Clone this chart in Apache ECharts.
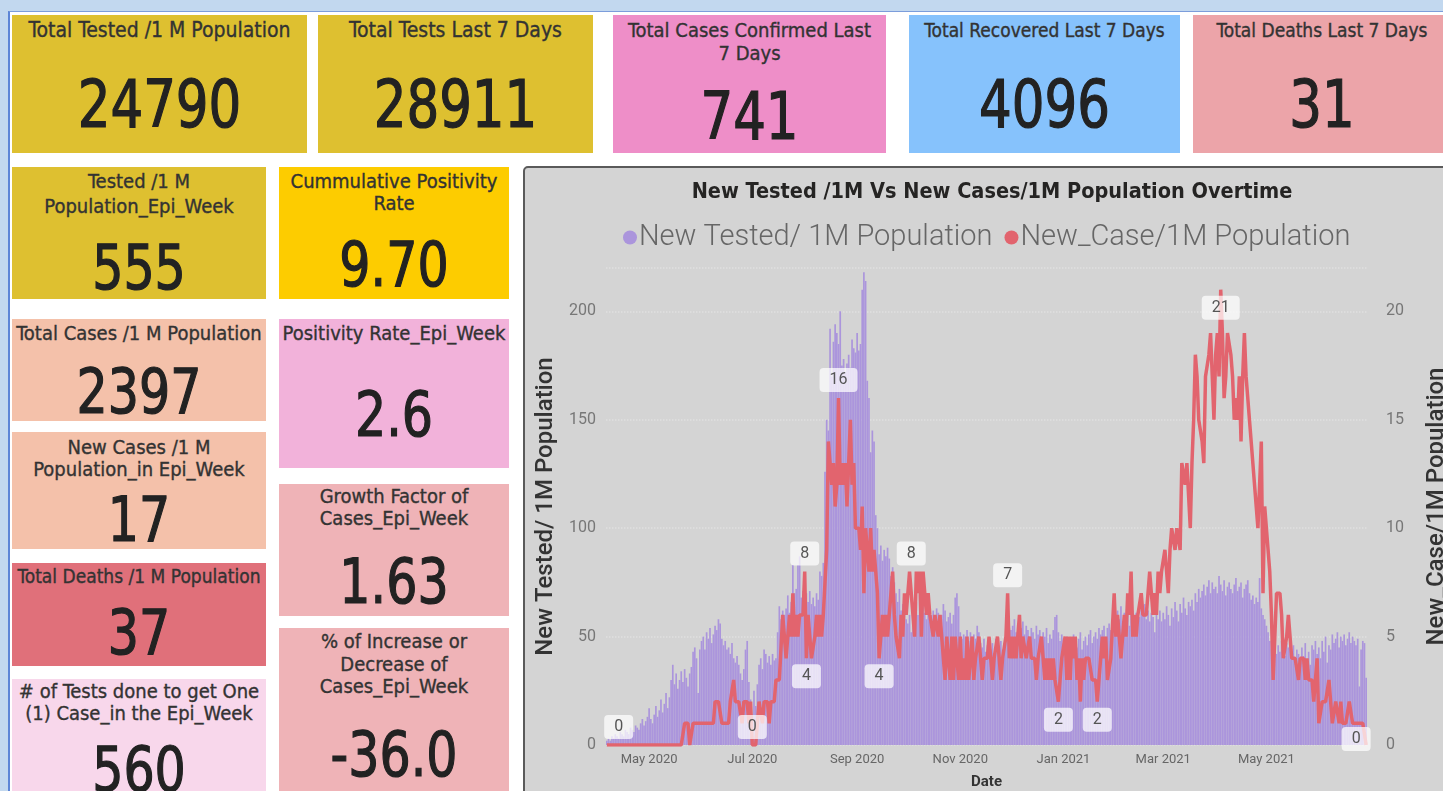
<!DOCTYPE html>
<html>
<head>
<meta charset="utf-8">
<script src="https://cdn.jsdelivr.net/npm/echarts@6/dist/echarts.min.js"></script>
<style>
  html, body { margin: 0; padding: 0; width: 1443px; height: 791px; overflow: hidden; background: #c2d8ef; }
  .frame { position: absolute; left: 8px; top: 11px; right: 0; bottom: 0; background: #fff;
           border-left: 2px solid #5d85d6; border-top: 1px solid #7c9ddb; }
  .card { position: absolute; overflow: hidden; }
  .t { position: absolute; left: 0; right: 0; text-align: center; color: #333; white-space: nowrap;
       font: 20px/23px "DejaVu Sans Condensed", Roboto, sans-serif; -webkit-text-stroke: 0.35px #333; }
  .v { position: absolute; left: 0; right: 0; text-align: center; color: #222; white-space: nowrap;
       font: 62px/70px "DejaVu Sans Condensed", Roboto, sans-serif; -webkit-text-stroke: 1.2px #222;
       transform: scaleX(0.88); }
  .big { font-size: 65px; }
  #panel { position: absolute; left: 523px; top: 166px; width: 940px; height: 660px; background: #d4d4d4;
           border: 2px solid #5a5a5a; border-radius: 5px; }
  #main { position: absolute; left: 0; top: 0; width: 1443px; height: 791px; }
</style>
</head>
<body>
<div class="frame"></div>

<div class="card" style="left:12px;top:15px;width:295px;height:138px;background:#dec030">
  <div class="t" style="top:4px;font-size:21px">Total Tested /1 M Population</div>
  <div class="v big" style="top:55px">24790</div>
</div>
<div class="card" style="left:318px;top:15px;width:275px;height:138px;background:#dec030">
  <div class="t" style="top:4px;font-size:21px">Total Tests Last 7 Days</div>
  <div class="v big" style="top:55px">28911</div>
</div>
<div class="card" style="left:613px;top:15px;width:273px;height:138px;background:#ee8ec8">
  <div class="t" style="top:4px">Total Cases Confirmed Last<br>7 Days</div>
  <div class="v big" style="top:67px">741</div>
</div>
<div class="card" style="left:909px;top:15px;width:271px;height:138px;background:#86c2fc">
  <div class="t" style="top:4px;font-size:19px">Total Recovered Last 7 Days</div>
  <div class="v big" style="top:55px">4096</div>
</div>
<div class="card" style="left:1193px;top:15px;width:258px;height:138px;background:#eca4a9">
  <div class="t" style="top:4px;font-size:19px">Total Deaths Last 7 Days</div>
  <div class="v big" style="top:55px">31</div>
</div>

<div class="card" style="left:12px;top:167px;width:254px;height:132px;background:#dec030">
  <div class="t" style="top:2px;line-height:25px">Tested /1 M<br>Population_Epi_Week</div>
  <div class="v" style="top:66px">555</div>
</div>
<div class="card" style="left:279px;top:167px;width:230px;height:132px;background:#fdcc00">
  <div class="t" style="top:3px;line-height:22px">Cummulative Positivity<br>Rate</div>
  <div class="v" style="top:63px">9.70</div>
</div>
<div class="card" style="left:12px;top:319px;width:254px;height:102px;background:#f4c1aa">
  <div class="t" style="top:3px">Total Cases /1 M Population</div>
  <div class="v" style="top:38px">2397</div>
</div>
<div class="card" style="left:279px;top:319px;width:230px;height:149px;background:#f2b2da">
  <div class="t" style="top:3px">Positivity Rate_Epi_Week</div>
  <div class="v" style="top:61px">2.6</div>
</div>
<div class="card" style="left:12px;top:432px;width:254px;height:117px;background:#f4c1aa">
  <div class="t" style="top:4px;line-height:22px">New Cases /1 M<br>Population_in Epi_Week</div>
  <div class="v" style="top:53px">17</div>
</div>
<div class="card" style="left:279px;top:484px;width:230px;height:132px;background:#efb3b7">
  <div class="t" style="top:1px;line-height:22px">Growth Factor of<br>Cases_Epi_Week</div>
  <div class="v" style="top:63px">1.63</div>
</div>
<div class="card" style="left:12px;top:563px;width:254px;height:103px;background:#e0707a">
  <div class="t" style="top:2px;font-size:19px">Total Deaths /1 M Population</div>
  <div class="v" style="top:35px">37</div>
</div>
<div class="card" style="left:279px;top:628px;width:230px;height:180px;background:#efb3b7">
  <div class="t" style="top:2px;line-height:22.5px">% of Increase or<br>Decrease of<br>Cases_Epi_Week</div>
  <div class="v" style="top:92px">-36.0</div>
</div>
<div class="card" style="left:12px;top:679px;width:254px;height:130px;background:#f8d7eb">
  <div class="t" style="top:1px;line-height:22px"># of Tests done to get One<br>(1) Case_in the Epi_Week</div>
  <div class="v" style="top:56px">560</div>
</div>

<div id="panel"></div>
<div id="main"></div>

<script>
// new tested per 1M population, one value per day
const testedApr20 = [2,3,2,4,3,5,4,3,6,5,4,7,6,5,8,7,6,9,8,7,10,12,9,11,13] // from Apr 6
const testedMay20 = [17,12,10,14,18,13,16,21,15,19,24,17,22,30,37,28,33,26,30,34,29,35,31,27,33,36,43,45,40,24,44]
const testedJun20 = [48,50,44,52,49,54,47,51,55,53,58,56,49,46,48,44,45,42,47,40,38,41,37,33,30,35,44,48,29,21]
const testedJul20 = [14,25,18,28,37,40,35,44,42,38,41,37,42,39,40,52,64,58,62,60,63,69,61,66,83,70,72,83,87,68,71]
const testedAug20 = [63,70,66,71,65,68,64,70,67,80,78,84,126,150,145,192,170,186,194,190,185,200,175,178,172,176,180,174,187,183,181]
const testedSep20 = [190,182,185,210,218,214,168,160,135,145,140,106,100,88,92,85,90,87,91,86,78,82,75,70,66,72,62,65,60,58]
const testedOct20 = [56,60,52,58,63,66,60,69,62,64,61,58,63,57,60,62,59,63,61,58,60,65,62,57,59,61,56,60,68,70,64]
const testedNov20 = [52,49,51,50,53,48,52,50,51,49,55,52,47,45,49,43,46,48,44,47,42,49,46,45,48,44,47,52,50,54]
const testedDec20 = [53,55,58,52,56,60,54,57,51,55,53,50,54,52,49,55,51,53,48,52,50,54,47,51,49,53,59,60,52,48,51]
const testedJan21 = [49,46,50,44,48,42,51,47,45,49,52,44,48,50,46,51,53,47,50,52,49,54,51,53,55,50,54,56,53,58,55]
const testedFeb21 = [60,62,58,64,57,61,59,63,55,60,62,58,61,56,59,63,60,65,58,62,57,61,59,52,60,58,62,57]
const testedMar21 = [61,58,64,60,55,63,59,66,62,57,65,61,68,63,60,66,64,67,62,70,66,72,68,71,74,69,73,76,70,75,72]
const testedApr21 = [73,70,78,74,71,76,69,73,75,72,70,74,77,71,73,75,68,72,74,76,70,67,69,65,68,66,77,63,60,58]
const testedMay21 = [55,52,48,44,47,45,42,46,43,48,44,41,47,45,49,43,46,40,44,42,38,45,41,47,39,43,37,46,44,48,42]
const testedJun21 = [45,40,48,43,50,38,46,44,51,47,49,52,45,50,48,51,46,49,52,47,50,48,46,49,27,44,48,47,31] // to Jun 29

// new cases per 1M population, one value per day
const casesApr20 = [0,0,0,0,0,0,0,0,0,0,0,0,0,0,0,0,0,0,0,0,0,0,0,0,0]
const casesMay20 = [0,0,0,0,0,0,0,0,0,0,0,0,0,0,0,0,0,0,0,0,0,1,1,1,0,0,1,1,1,1,1]
const casesJun20 = [1,1,1,1,1,1,1,1,2,2,2,2,1,1,1,1,1,2,2,3,2,2,2,2,1,2,2,2,1,2]
const casesJul20 = [0,0,0,1,2,2,1,2,2,2,1,2,2,2,3,3,3,3,6,6,4,5,6,5,7,5,6,5,6,6,6]
const casesAug20 = [8,4,6,5,4,4,5,6,5,6,5,6,6,9,14,13,12,13,11,12,16,12,13,12,13,11,13,15,12,13,10]
const casesSep20 = [10,10,9,11,7,10,9,8,10,8,9,8,7,4,5,6,5,6,5,6,7,8,6,5,5,4,6,5,7,6]
const casesOct20 = [7,8,8,6,5,8,7,8,5,8,8,6,7,6,6,5,6,6,5,6,5,5,3,5,4,3,5,3,5,4,3]
const casesNov20 = [5,3,4,3,5,3,4,5,3,4,4,5,4,3,4,4,4,5,4,3,4,4,5,4,3,4,4,5,7,4]
const casesDec20 = [5,4,5,4,5,6,4,5,5,4,4,5,4,4,4,3,4,4,5,4,3,4,3,4,3,4,3,3,2,3,4]
const casesJan21 = [4,5,3,5,3,5,4,5,3,4,2,4,3,4,4,4,4,3,3,3,2,3,4,5,4,5,3,3,4,4,7]
const casesFeb21 = [5,6,5,4,5,6,5,7,6,8,5,6,5,6,6,7,6,6,6,7,8,8,6,7,6,8,7,8]
const casesMar21 = [8,9,8,7,9,10,10,9,10,10,9,13,13,12,13,13,10,13,15,18,17,15,15,14,13,17,17,18,19,17,15]
const casesApr21 = [18,19,17,21,19,16,17,19,19,18,17,15,16,15,17,14,17,19,17,16,15,14,13,12,11,10,12,14,7,11]
const casesMay21 = [10,9,8,6,3,5,7,7,7,6,4,4,5,6,6,4,4,4,4,3,4,4,4,3,4,3,3,3,2,2,4]
const casesJun21 = [1,1,2,2,2,2,3,2,1,1,2,2,1,2,1,1,1,1,2,2,1,1,1,1,1,1,1,1,0]

// month, first day, tested, cases
const months = [
    ['2020-04', 6, testedApr20, casesApr20],
    ['2020-05', 1, testedMay20, casesMay20],
    ['2020-06', 1, testedJun20, casesJun20],
    ['2020-07', 1, testedJul20, casesJul20],
    ['2020-08', 1, testedAug20, casesAug20],
    ['2020-09', 1, testedSep20, casesSep20],
    ['2020-10', 1, testedOct20, casesOct20],
    ['2020-11', 1, testedNov20, casesNov20],
    ['2020-12', 1, testedDec20, casesDec20],
    ['2021-01', 1, testedJan21, casesJan21],
    ['2021-02', 1, testedFeb21, casesFeb21],
    ['2021-03', 1, testedMar21, casesMar21],
    ['2021-04', 1, testedApr21, casesApr21],
    ['2021-05', 1, testedMay21, casesMay21],
    ['2021-06', 1, testedJun21, casesJun21],
]

// tick labels on the date axis
const tickMonths = ['2020-05', '2020-07', '2020-09', '2020-11', '2021-01', '2021-03', '2021-05']
const monthNames = ['Jan', 'Feb', 'Mar', 'Apr', 'May', 'Jun', 'Jul', 'Aug', 'Sep', 'Oct', 'Nov', 'Dec']

// points of the case line that carry a data label
const labelledDays = ['2020-04-13', '2020-07-01', '2020-08-01', '2020-08-02', '2020-08-21', '2020-09-14',
    '2020-10-03', '2020-11-29', '2020-12-29', '2021-01-21', '2021-04-04', '2021-06-29']
const labelSide = ['top', 'top', 'top', 'bottom', 'top', 'bottom', 'top', 'top', 'bottom', 'bottom', 'bottom', 'top']

const pad = (n) => (n < 10 ? '0' + n : '' + n)
const dates = []
const tested = []
const cases = []
months.forEach(([ym, first, t, c]) => {
    t.forEach((v, i) => {
        dates.push(ym + '-' + pad(first + i))
        tested.push(v)
        cases.push(c[i])
    })
})

const font = 'Roboto, "Noto Sans", sans-serif'
const condensed = '"DejaVu Sans Condensed", Roboto, sans-serif'

const caseData = cases.map((v, i) => {
    const k = labelledDays.indexOf(dates[i])
    if (k < 0) return v
    const lab = { show: true, position: labelSide[k] }
    if (k === labelledDays.length - 1) lab.offset = [-10, 12]
    return { value: v, label: lab }
})

const myChart = echarts.init(document.getElementById('main'))

const option = {
    animation: false,
    textStyle: { fontFamily: font },
    title: {
        text: 'New Tested /1M Vs New Cases/1M Population Overtime',
        left: 987,
        top: 176,
        textAlign: 'center',
        textStyle: { fontSize: 21.5, fontWeight: 'bold', color: '#252423', fontFamily: condensed },
    },
    legend: {
        left: 618,
        top: 218,
        icon: 'circle',
        itemWidth: 14,
        itemHeight: 14,
        itemGap: 12,
        textStyle: { fontSize: 29, fontWeight: 300, color: '#666', fontFamily: font, padding: [0, 0, 0, -3] },
    },
    grid: { left: 606, top: 268, width: 761, height: 477, outerBoundsMode: 'none', containLabel: false },
    xAxis: {
        type: 'category',
        data: dates,
        boundaryGap: true,
        axisLine: { show: false },
        axisTick: { show: false },
        axisLabel: {
            interval: (index, value) => value.slice(8) === '01' && tickMonths.indexOf(value.slice(0, 7)) >= 0,
            formatter: (value) => monthNames[+value.slice(5, 7) - 1] + ' ' + value.slice(0, 4),
            color: '#666',
            fontSize: 13,
            margin: 8,
        },
        name: 'Date',
        nameLocation: 'middle',
        nameGap: 30,
        nameTextStyle: { fontSize: 15, fontWeight: 'bold', color: '#333' },
    },
    yAxis: [{
        type: 'value',
        min: 0,
        max: 220,
        interval: 50,
        axisLabel: { color: '#777', fontSize: 16, margin: 10, showMaxLabel: false },
        splitLine: { lineStyle: { type: 'dotted', color: '#dfdfdf', width: 1.5 } },
        name: 'New Tested/ 1M Population',
        nameLocation: 'middle',
        nameGap: 42,
        nameTextStyle: { fontSize: 24, fontWeight: 500, color: '#333' },
    }, {
        type: 'value',
        position: 'right',
        min: 0,
        max: 22,
        interval: 5,
        axisLabel: { color: '#777', fontSize: 16, margin: 19, showMaxLabel: false },
        splitLine: { show: false },
        name: 'New_Case/1M Population',
        nameLocation: 'middle',
        nameRotate: 90,
        nameGap: 58,
        nameTextStyle: { fontSize: 24, fontWeight: 500, color: '#333' },
    }],
    series: [{
        name: 'New Tested/ 1M Population',
        type: 'bar',
        data: tested,
        yAxisIndex: 0,
        barCategoryGap: '0%',
        itemStyle: { color: '#ab95dc' },
    }, {
        name: 'New_Case/1M Population',
        type: 'line',
        data: caseData,
        yAxisIndex: 1,
        symbol: 'circle',
        symbolSize: 0,
        showAllSymbol: true,
        itemStyle: { color: '#e2646e' },
        lineStyle: { width: 3.5, color: '#e2646e' },
        label: {
            show: false,
            fontSize: 16,
            color: '#555',
            backgroundColor: 'rgba(255,255,255,0.72)',
            borderRadius: 4,
            padding: [4, 10],
            distance: 6,
        },
    }],
}

myChart.setOption(option)
</script>
</body>
</html>
